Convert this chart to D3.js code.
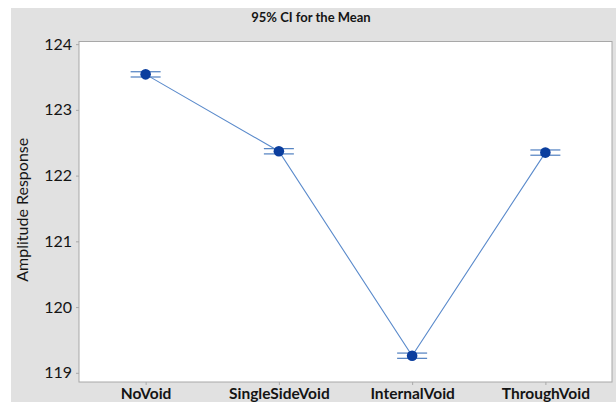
<!DOCTYPE html>
<html>
<head>
<meta charset="utf-8">
<script src="https://cdn.jsdelivr.net/npm/d3@7"></script>
<style>
  html, body { margin: 0; padding: 0; background: #ffffff; }
  svg { display: block; }
  text { font-family: Lato, "Open Sans", sans-serif; fill: #141414; }
</style>
</head>
<body>
<svg id="chart" width="616" height="402"></svg>
<script>
// Interval plot: mean amplitude response with 95% confidence intervals
const categories = ["NoVoid", "SingleSideVoid", "InternalVoid", "ThroughVoid"];
const means = [123.54, 122.37, 119.26, 122.35];
const ciLower = [123.50, 122.33, 119.22, 122.31];
const ciUpper = [123.58, 122.41, 119.30, 122.39];
const yTicks = [119, 120, 121, 122, 123, 124];

const svg = d3.select("#chart");
const W = 616, H = 402;
const plot = { left: 79, right: 612, top: 41.5, bottom: 382 };
const fontStack = "Lato, 'Open Sans', sans-serif";

// outer gray panel
svg.append("rect").attr("x", 11).attr("y", 8).attr("width", W - 11).attr("height", H - 8)
  .attr("fill", "#e1e1e1");

// plot area
svg.append("rect").attr("x", plot.left).attr("y", plot.top)
  .attr("width", plot.right - plot.left).attr("height", plot.bottom - plot.top)
  .attr("fill", "#ffffff").attr("stroke", "#a8a8a8").attr("stroke-width", 1);

const x = d3.scalePoint().domain(categories).range([plot.left, plot.right]).padding(0.5);
const y = d3.scaleLinear().domain([118.86, 124.04]).range([plot.bottom, plot.top]);

// title
svg.append("text").attr("x", 311).attr("y", 22).attr("text-anchor", "middle")
  .attr("font-size", 13).attr("font-weight", 700).text("95% CI for the Mean");

// y axis
const yAxis = d3.axisLeft(y).tickValues(yTicks).tickSize(3).tickPadding(4).tickFormat(d3.format("d"));
const gy = svg.append("g").attr("transform", `translate(${plot.left},0)`).call(yAxis);
gy.select(".domain").remove();
gy.selectAll(".tick line").attr("stroke", "#a8a8a8");
gy.selectAll(".tick text").attr("font-size", 16).attr("fill", "#141414")
  .attr("font-family", fontStack);

// x axis
const xAxis = d3.axisBottom(x).tickSize(3).tickPadding(3);
const gx = svg.append("g").attr("transform", `translate(0,${plot.bottom})`).call(xAxis);
gx.select(".domain").remove();
gx.selectAll(".tick line").attr("stroke", "#a8a8a8");
gx.selectAll(".tick text").attr("font-size", 15.5).attr("font-weight", 700).attr("fill", "#141414")
  .attr("font-family", fontStack);

// y axis title
svg.append("text").attr("transform", `translate(28,${(plot.top + plot.bottom) / 2 - 2}) rotate(-90)`)
  .attr("text-anchor", "middle").attr("font-size", 16).text("Amplitude Response");

const data = categories.map((c, i) => ({ c, m: means[i], lo: ciLower[i], hi: ciUpper[i] }));

// connecting line through the means
svg.append("path").datum(data)
  .attr("d", d3.line().x(d => x(d.c)).y(d => y(d.m)))
  .attr("fill", "none").attr("stroke", "#5a8acb").attr("stroke-width", 1.1);

// interval caps
const capHalf = 15;
const caps = svg.append("g").attr("stroke", "#4f7fc0").attr("stroke-width", 1.2);
data.forEach(d => {
  [d.lo, d.hi].forEach(v => {
    caps.append("line").attr("x1", x(d.c) - capHalf).attr("x2", x(d.c) + capHalf)
      .attr("y1", y(v)).attr("y2", y(v));
  });
  caps.append("line").attr("x1", x(d.c)).attr("x2", x(d.c))
    .attr("y1", y(d.lo)).attr("y2", y(d.hi));
});

// mean symbols
svg.append("g").selectAll("circle").data(data).join("circle")
  .attr("cx", d => x(d.c)).attr("cy", d => y(d.m)).attr("r", 5.3)
  .attr("fill", "#0b3e9e");
</script>
</body>
</html>
